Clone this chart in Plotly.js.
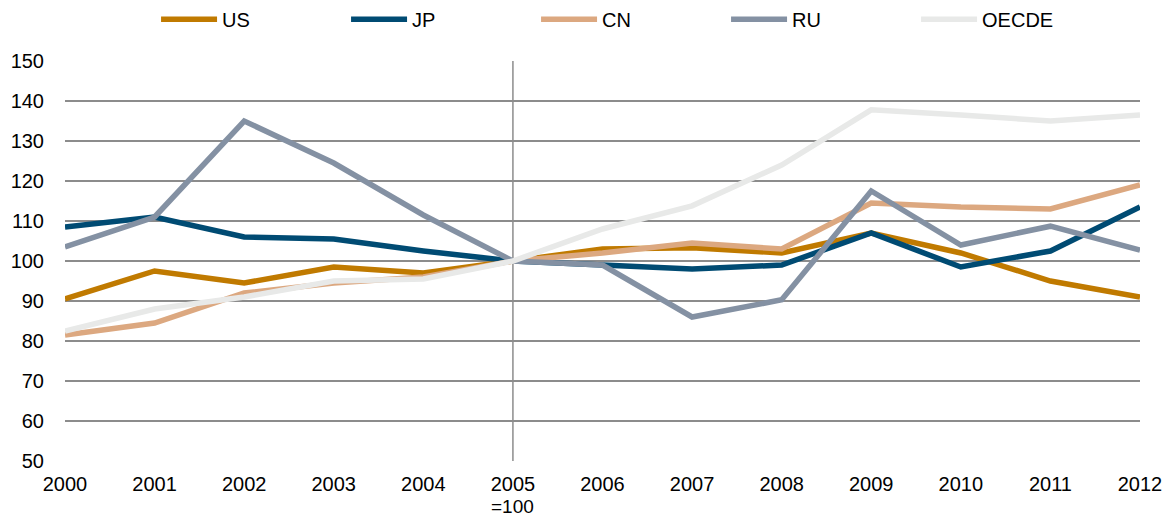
<!DOCTYPE html>
<html>
<head>
<meta charset="utf-8">
<script src="https://cdn.plot.ly/plotly-3.0.1.min.js"></script>
<style>html,body{margin:0;padding:0;background:#fff;}#chart{width:1172px;height:517px;}</style>
</head>
<body>
<div id="chart"></div>
<script>
const years = [2000,2001,2002,2003,2004,2005,2006,2007,2008,2009,2010,2011,2012];
const yearLabels = ['2000','2001','2002','2003','2004','2005','2006','2007','2008','2009','2010','2011','2012'];
const baseNote = '=100';
const baseYear = 2005;
const US    = [90.5, 97.5, 94.5, 98.5, 97, 100, 103, 103.3, 102, 107, 102, 95, 91];
const JP    = [108.5, 111, 106, 105.5, 102.5, 100, 99, 98, 99, 107, 98.5, 102.5, 113.5];
const CN    = [81.5, 84.5, 92, 94.5, 96, 100, 102, 104.5, 103, 114.5, 113.5, 113, 119];
const RU    = [103.5, 111, 135, 124.5, 111.5, 100, 99, 86, 90.3, 117.5, 104, 108.7, 102.7];
const OECDE = [82.5, 88, 91, 95, 95.5, 100, 108, 113.8, 124, 137.8, 136.5, 135, 136.5];
const seriesNames = ['US','JP','CN','RU','OECDE'];
const seriesData = [US, JP, CN, RU, OECDE];
const seriesColors = ['#C07A00','#004B73','#DCA880','#8491A3','#E8E9E8'];

const traces = seriesNames.map((n,i)=>({
  x: years, y: seriesData[i], name: n, type:'scatter', mode:'lines',
  line:{color: seriesColors[i], width:5.5}
}));

const layout = {
  width:1172, height:517,
  margin:{l:65, r:32, t:61, b:56, autoexpand:false},
  paper_bgcolor:'#fff', plot_bgcolor:'#fff',
  font:{family:'Liberation Sans, Arial, sans-serif', size:20, color:'#000'},
  showlegend:true,
  legend:{orientation:'h', x:0.0847, xanchor:'left', yref:'container', y:0.963, yanchor:'middle',
          entrywidth:119, entrywidthmode:'pixels', itemwidth:56,
          font:{size:20, color:'#000'}, bgcolor:'rgba(0,0,0,0)'},
  xaxis:{range:[2000,2012], tickvals:years, ticktext:yearLabels, showgrid:false, automargin:false,
         zeroline:false, showline:false, ticks:'', ticklabelstandoff:9, fixedrange:true},
  yaxis:{range:[50,150], dtick:10, tick0:50, showgrid:true, gridcolor:'#8C8C8C', gridwidth:1.5, automargin:false,
         zeroline:false, showline:false, ticks:'', ticklabelstandoff:20},
  shapes:[{type:'line', xref:'x', yref:'paper', x0:baseYear, x1:baseYear, y0:0, y1:1,
           line:{color:'#8C8C8C', width:1.5}, layer:'below'}],
  annotations:[{xref:'x', yref:'paper', x:baseYear, y:-0.1125, yanchor:'middle', xanchor:'center',
                text:baseNote, showarrow:false, borderpad:0, font:{size:19, color:'#000'}}]
};
Plotly.newPlot('chart', traces, layout, {displayModeBar:false, staticPlot:true});
</script>
</body>
</html>
